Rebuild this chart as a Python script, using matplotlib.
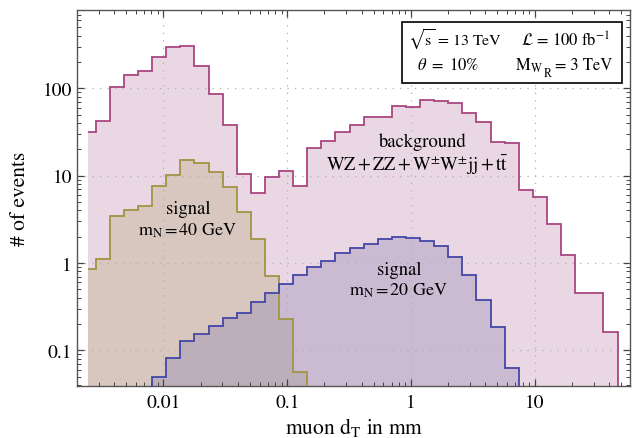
import numpy as np
import matplotlib
matplotlib.use("Agg")
import matplotlib.pyplot as plt
from matplotlib.patches import Rectangle
from matplotlib.ticker import FixedLocator, FixedFormatter, LogLocator, NullFormatter

plt.rcParams['font.family'] = 'STIXGeneral'
plt.rcParams['mathtext.fontset'] = 'stix'

# log-spaced bins of the transverse displacement (mm); first bin clipped by the plot range
bin_edges = np.concatenate([[10 ** -2.608], np.logspace(-2.548, 1.670, 38)])

# background WZ + ZZ + W+-W+-jj + ttbar, bins 0..37
background = [31.3, 42.5, 104, 142, 157, 228, 299, 307, 180, 86, 37.7, 10.4,
              6.3, 9.6, 11.4, 7.6, 20.7, 24.9, 31.3, 38, 46.9, 46.9, 63.2, 61.5,
              74, 72.4, 68.7, 51.8, 41.5, 24.1, 23.7, 6.9, 5.65, 2.82, 1.24,
              0.457, 0.457, 0.163]

# signal m_N = 40 GeV, bins 0..15
signal_40 = [0.853, 1.11, 3.45, 4.05, 4.53, 7.57, 10.2, 15.1, 13.8, 10.9, 7.47,
             3.86, 1.88, 0.714, 0.228, 0.056]
signal_40_first = 0

# signal m_N = 20 GeV, bins 5..30
signal_20 = [0.0491, 0.0817, 0.1295, 0.152, 0.190, 0.236, 0.267, 0.355, 0.453,
             0.574, 0.728, 0.892, 1.044, 1.29, 1.48, 1.65, 1.88, 2.00, 1.93, 1.80,
             1.55, 1.16, 0.735, 0.379, 0.183, 0.0622]
signal_20_first = 5

xticks = [0.01, 0.1, 1, 10]
xtick_labels = ['0.01', '0.1', '1', '10']
yticks = [0.1, 1, 10, 100]
ytick_labels = ['0.1', '1', '10', '100']

floor = 1e-3

fig = plt.figure(figsize=(6.33, 4.39), dpi=100)
ax = fig.add_axes([0.1224, 0.1191, 0.8729, 0.8558])
ax.set_xscale('log')
ax.set_yscale('log')


def draw_hist(vals, first, line_col, fill_col, alpha, left_edge):
    vals = np.asarray(vals, dtype=float)
    e = bin_edges[first:first + len(vals) + 1]
    ax.stairs(vals, e, baseline=floor, fill=True, color=fill_col, alpha=alpha,
              lw=0, zorder=1)
    # outline: risers down to the floor only where the histogram really starts/ends
    lv = np.append(vals, floor)
    le = np.append(e, e[-1] * 1.3)
    if left_edge:
        lv = np.insert(lv, 0, floor)
        le = np.insert(le, 0, e[0] / 1.3)
    ax.stairs(lv, le, baseline=None, color=line_col, lw=1.3, zorder=3)


draw_hist(background, 0, '#a8467f', (185 / 255, 128 / 255, 165 / 255), 0.3, False)
draw_hist(signal_40, signal_40_first, '#a39444', (174 / 255, 160 / 255, 108 / 255), 0.3, False)
draw_hist(signal_20, signal_20_first, '#4446a8', (131 / 255, 120 / 255, 175 / 255), 0.3, True)

ax.set_xlim(10 ** -2.695, 10 ** 1.771)
ax.set_ylim(10 ** -1.405, 10 ** 2.897)

ax.xaxis.set_major_locator(FixedLocator(xticks))
ax.xaxis.set_major_formatter(FixedFormatter(xtick_labels))
ax.yaxis.set_major_locator(FixedLocator(yticks))
ax.yaxis.set_major_formatter(FixedFormatter(ytick_labels))
ax.xaxis.set_minor_locator(LogLocator(base=10, subs=np.arange(2, 10), numticks=20))
ax.yaxis.set_minor_locator(LogLocator(base=10, subs=np.arange(2, 10), numticks=20))
ax.xaxis.set_minor_formatter(NullFormatter())
ax.yaxis.set_minor_formatter(NullFormatter())

ax.tick_params(which='both', direction='in', top=True, right=True, color='#444444',
               labelsize=14)
ax.tick_params(which='major', length=5, width=0.9)
ax.tick_params(which='minor', length=2.8, width=0.7)
ax.tick_params(axis='x', pad=6)
ax.tick_params(axis='y', pad=4)
for s in ax.spines.values():
    s.set_color('#555555')
    s.set_linewidth(1.0)

ax.set_axisbelow(False)
ax.grid(True, which='major', color='#b0b0b0', lw=0.9, ls=(0, (1, 5)), zorder=2)

ax.set_xlabel(r'muon d$_{\mathrm{T}}$ in mm', fontsize=15.5, labelpad=3)
ax.set_ylabel('# of events', fontsize=15.5, labelpad=9)

W, H = 633.0, 439.0


def ftext(x, y, s, size=12, ha='center', **kw):
    fig.text(x / W, 1 - y / H, s, fontsize=size, ha=ha, va='center', **kw)


ftext(423, 142, 'background', size=13.4)
ftext(417, 165, r'WZ$\,$+$\,$ZZ$\,$+$\,$W$^{\pm}$W$^{\pm}$jj$\,$+$\,$t$\bar{\mathrm{t}}$', size=13.4)
ftext(188, 209, 'signal', size=13.4)
ftext(187, 231, r'm$_{\mathrm{N}}$$\,$=$\,$40 GeV', size=13)
ftext(399, 270, 'signal', size=13.4)
ftext(398, 291, r'm$_{\mathrm{N}}$$\,$=$\,$20 GeV', size=13)

# info box
box = Rectangle((401.7 / W, 1 - 84 / H), (622.3 - 401.7) / W, (84 - 22.7) / H,
                transform=fig.transFigure, facecolor='white', edgecolor='black',
                lw=1.2, zorder=5)
fig.patches.append(box)
ftext(408, 40, r'$\sqrt{\mathrm{s}}$ = 13 TeV', size=11.5, ha='left', zorder=6)
ftext(566, 40, r'$\mathcal{L}$ = 100 fb$^{-1}$', size=12, zorder=6)
ftext(448, 66, r'$\theta\ =\ 10\%$', size=12, zorder=6)
ftext(515, 66, r'M$_{\mathrm{W}}$', size=12, ha='left', zorder=6)
ftext(544, 74, 'R', size=8.5, ha='left', zorder=6)
ftext(584, 66, '= 3 TeV', size=12, zorder=6)

fig.savefig('out.png', dpi=100)
